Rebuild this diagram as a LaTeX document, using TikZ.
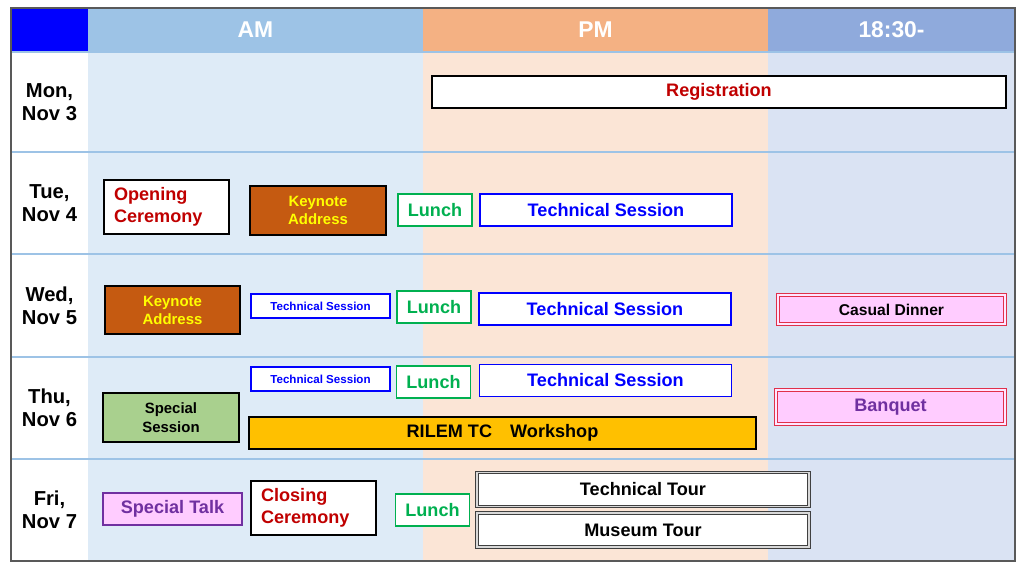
\documentclass[tikz,border=0pt]{standalone}
\usepackage{fontspec}
\setmainfont{Liberation Sans}
\usepackage{xcolor}
\usetikzlibrary{positioning}
\definecolor{amhead}{HTML}{9DC3E6}
\definecolor{ambody}{HTML}{DEEBF7}
\definecolor{pmhead}{HTML}{F4B183}
\definecolor{pmbody}{HTML}{FBE5D6}
\definecolor{evehead}{HTML}{8FAADC}
\definecolor{evebody}{HTML}{DAE3F3}
\definecolor{rowline}{HTML}{9DC3E6}
\definecolor{frame}{HTML}{595959}
\definecolor{cerred}{HTML}{C00000}
\definecolor{keyfill}{HTML}{C55A11}
\definecolor{keytext}{HTML}{FFFF00}
\definecolor{lunchgreen}{HTML}{00B050}
\definecolor{techblue}{HTML}{0000FF}
\definecolor{pinkfill}{HTML}{FFCCFF}
\definecolor{dinnerred}{HTML}{E0304A}
\definecolor{purpletext}{HTML}{7030A0}
\definecolor{greenfill}{HTML}{A9D08E}
\definecolor{workfill}{HTML}{FFC000}

\begin{document}
\begin{tikzpicture}[
        x=0.02cm, y=-0.02cm,
        dims/.style 2 args={minimum width=#1*0.02cm, minimum height=#2*0.02cm},
        head/.style={text=white, font=\bfseries\fontsize{13}{15}\selectfont},
        day/.style={align=center, font=\bfseries\fontsize{11.5}{13.2}\selectfont},
        event/.style={rectangle, draw, fill=white, inner sep=0pt, align=center, font=\bfseries\fontsize{10.3}{12.4}\selectfont},
        ceremony/.style={event, line width=1pt, text=cerred, align=left, text width=2.1cm, dims={125}{54}},
        keynote/.style={event, line width=1.7pt, fill=keyfill, text=keytext, font=\bfseries\fontsize{8.5}{10.2}\selectfont},
        lunch/.style={event, draw=lunchgreen, line width=1pt, text=lunchgreen, dims={74}{32}},
        tech/.style={event, draw=techblue, line width=1.1pt, text=techblue, dims={252}{32}},
        techsmall/.style={tech, font=\bfseries\fontsize{6.6}{8}\selectfont, dims={139}{24}},
        dinner/.style={event, draw=dinnerred, line width=0.7pt, double=white!50!pinkfill, double distance=0.6pt, fill=pinkfill},
        tour/.style={event, draw=black!75, line width=0.7pt, double=black!15, double distance=0.7pt, dims={332}{34}}
    ]
        % frame and columns
        \useasboundingbox (0,0) rectangle (1024,570);
        \fill[white] (0,0) rectangle (1024,570);
        \fill[blue] (11,8) rectangle (88,52);
        \fill[amhead] (88,8) rectangle (423,52);
        \fill[pmhead] (423,8) rectangle (768,52);
        \fill[evehead] (768,8) rectangle (1015,52);
        \fill[ambody] (88,52) rectangle (423,561);
        \fill[pmbody] (423,52) rectangle (768,561);
        \fill[evebody] (768,52) rectangle (1015,561);
        \draw[rowline, line width=0.6pt] (11,52) -- (1015,52);
        \draw[rowline, line width=0.6pt] (11,152) -- (1015,152);
        \draw[rowline, line width=0.6pt] (11,254) -- (1015,254);
        \draw[rowline, line width=0.6pt] (11,357) -- (1015,357);
        \draw[rowline, line width=0.6pt] (11,459) -- (1015,459);
        \draw[frame, line width=1pt] (11,8) rectangle (1015,561);

        % headers
        \node[head] (hAM) at (255.5,30) {AM};
        \node[head] (hPM) at (595.5,30) {PM};
        \node[head] (hEve) at (891.5,30) {18:30-};

        % days
        \node[day] (dMon) at (49.5,102) {Mon,\\Nov 3};
        \node[day] (dTue) at (49.5,203) {Tue,\\Nov 4};
        \node[day] (dWed) at (49.5,305.5) {Wed,\\Nov 5};
        \node[day] (dThu) at (49.5,408) {Thu,\\Nov 6};
        \node[day] (dFri) at (49.5,510) {Fri,\\Nov 7};

        % Monday
        \node[event, line width=1.1pt, text=cerred, dims={574}{32}] (reg) at (719,92) {Registration};

        % Tuesday
        \node[ceremony] (opening) at (166.5,207) {Opening\\Ceremony};
        \node[keynote, dims={136}{49}] (keyTue) at (318,210.5) {Keynote\\Address};
        \node[lunch] (lunchTue) at (435,210) {Lunch};
        \node[tech] (techTue) at (606,210) {Technical Session};

        % Wednesday
        \node[keynote, dims={135}{48}] (keyWed) at (172.5,310) {Keynote\\Address};
        \node[techsmall] (techWedAM) at (320.5,306) {Technical Session};
        \node[lunch] (lunchWed) at (434,307) {Lunch};
        \node[tech] (techWed) at (605,309) {Technical Session};
        \node[dinner, text=black, font=\bfseries\fontsize{8.9}{10.6}\selectfont, dims={227}{29}] (dinnerWed) at (891.5,309.5) {Casual Dinner};

        % Thursday
        \node[techsmall] (techThuAM) at (320.5,379) {Technical Session};
        \node[lunch] (lunchThu) at (433.5,382) {Lunch};
        \node[tech] (techThu) at (605.5,380.5) {Technical Session};
        \node[event, line width=1.7pt, fill=greenfill, font=\bfseries\fontsize{8.5}{10.8}\selectfont, dims={136}{49}] (special) at (171,417.5) {Special\\Session};
        \node[event, line width=1.1pt, fill=workfill, dims={507}{32}] (rilem) at (502.5,433) {RILEM TC\quad Workshop};
        \node[dinner, text=purpletext, dims={229}{34}] (banquet) at (890.5,407) {Banquet};

        % Friday
        \node[event, draw=purpletext, line width=1pt, fill=pinkfill, text=purpletext, dims={139}{32}] (talk) at (172.5,509) {Special Talk};
        \node[ceremony] (closing) at (313.5,508) {Closing\\Ceremony};
        \node[lunch] (lunchFri) at (432.5,510) {Lunch};
        \node[tour] (techTour) at (643,489.5) {Technical Tour};
        \node[tour] (museum) at (643,530) {Museum Tour};
    \end{tikzpicture}
\end{document}
